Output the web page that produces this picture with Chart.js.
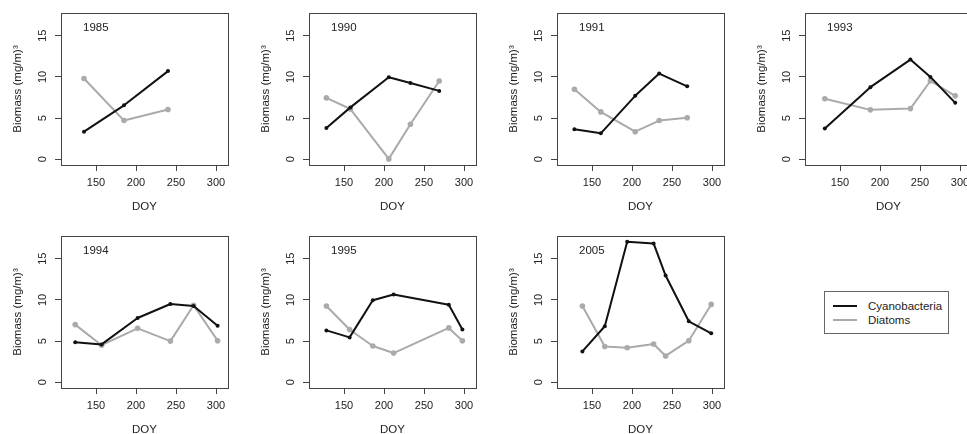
<!DOCTYPE html>
<html><head><meta charset="utf-8">
<script src="https://cdn.jsdelivr.net/npm/chart.js@4.4.1/dist/chart.umd.min.js"></script>
<style>
html,body{margin:0;padding:0;background:#fff;width:967px;height:434px;overflow:hidden;}
#wrap{position:relative;width:967px;height:434px;overflow:hidden;background:#fff;}
#wrap canvas{position:absolute;}
#legend{position:absolute;left:824px;top:291px;width:123px;height:41px;border:1px solid #666;font-family:"Liberation Sans",Arial,sans-serif;font-size:11.5px;color:#222;}
#legend .ln{position:absolute;left:8px;width:24px;height:2px;}
#legend .tx{position:absolute;left:43px;line-height:14px;white-space:nowrap;}
</style>
</head><body>
<div id="wrap">
  <div id="legend">
    <div class="ln" style="top:13px;background:#111;"></div><span class="tx" style="top:7px;">Cyanobacteria</span>
    <div class="ln" style="top:27px;background:#aaaaaa;"></div><span class="tx" style="top:21px;">Diatoms</span>
  </div>
</div>
<script>
// ---- data ----
const years = ['1985', '1990', '1991', '1993', '1994', '1995', '2005'];
const seriesNames = ['Cyanobacteria', 'Diatoms'];
const xTicks = [150, 200, 250, 300];
const yTicks = [0, 5, 10, 15];

const doy1985 = [135, 185, 240];
const cyano1985 = [3.35, 6.55, 10.7];
const diatom1985 = [9.8, 4.7, 6.05];

const doy1990 = [128, 158, 206, 233, 269];
const cyano1990 = [3.8, 6.3, 9.95, 9.25, 8.3];
const diatom1990 = [7.45, 6.1, 0.05, 4.25, 9.5];

const doy1991 = [128, 161, 204, 234, 269];
const cyano1991 = [3.65, 3.15, 7.7, 10.4, 8.85];
const diatom1991 = [8.5, 5.75, 3.35, 4.7, 5.05];

const doy1993 = [131, 188, 238, 263, 294];
const cyano1993 = [3.75, 8.75, 12.1, 10.0, 6.85];
const diatom1993 = [7.35, 6.0, 6.15, 9.5, 7.7];

const doy1994 = [124, 157, 202, 243, 272, 302];
const cyano1994 = [4.85, 4.6, 7.8, 9.5, 9.25, 6.85];
const diatom1994 = [7.0, 4.5, 6.55, 5.0, 9.35, 5.05];

const doy1995 = [128, 157, 186, 212, 281, 298];
const cyano1995 = [6.3, 5.45, 9.95, 10.65, 9.4, 6.4];
const diatom1995 = [9.25, 6.4, 4.4, 3.55, 6.6, 5.05];

const doy2005 = [138, 166, 194, 227, 242, 271, 299];
const cyano2005 = [3.75, 6.8, 17.05, 16.85, 12.95, 7.4, 5.95];
const diatom2005 = [9.25, 4.35, 4.2, 4.65, 3.2, 5.05, 9.45];

const panels = [
  [doy1985, cyano1985, diatom1985],
  [doy1990, cyano1990, diatom1990],
  [doy1991, cyano1991, diatom1991],
  [doy1993, cyano1993, diatom1993],
  [doy1994, cyano1994, diatom1994],
  [doy1995, cyano1995, diatom1995],
  [doy2005, cyano2005, diatom2005]
];

// ---- layout / style ----
const FONT = '"Liberation Sans", Arial, Helvetica, sans-serif';
const X_MIN = 106.25, X_MAX = 315;
const Y_MIN = -0.69, Y_MAX = 17.75;
const CW = 248, CH = 223;
const TEXT = '#222';
const AXIS = '#444';

const panelPlugin = {
  id: 'panelBox',
  afterDraw(chart, args, opts) {
    const {ctx, chartArea: a} = chart;
    ctx.save();
    ctx.strokeStyle = AXIS;
    ctx.lineWidth = 1;
    ctx.strokeRect(Math.round(a.left) + 0.5, Math.round(a.top) + 0.5,
                   Math.round(a.right - a.left), Math.round(a.bottom - a.top));
    ctx.fillStyle = TEXT;
    ctx.font = '11.5px ' + FONT;
    ctx.textBaseline = 'middle';
    ctx.textAlign = 'left';
    ctx.fillText(opts.text, a.left + 22, a.top + 14.5);
    ctx.restore();
  }
};

const wrap = document.getElementById('wrap');

panels.forEach((p, idx) => {
  const [doy, cy, di] = p;
  const col = idx % 4, row = Math.floor(idx / 4);
  const c = document.createElement('canvas');
  c.width = CW; c.height = CH;
  c.style.width = CW + 'px'; c.style.height = CH + 'px';
  c.style.left = (col * CW) + 'px';
  c.style.top = (row * CH) + 'px';
  wrap.appendChild(c);

  new Chart(c.getContext('2d'), {
    type: 'line',
    data: {
      datasets: [
        {
          label: seriesNames[0],
          data: doy.map((x, i) => ({x: x, y: cy[i]})),
          borderColor: '#111',
          backgroundColor: '#111',
          borderWidth: 2,
          pointRadius: 2,
          pointBorderWidth: 0,
          pointBackgroundColor: '#111',
          pointHoverRadius: 2,
          borderJoinStyle: 'round',
          borderCapStyle: 'round',
          tension: 0,
          fill: false
        },
        {
          label: seriesNames[1],
          data: doy.map((x, i) => ({x: x, y: di[i]})),
          borderColor: '#aaaaaa',
          backgroundColor: '#aaaaaa',
          borderWidth: 2,
          pointRadius: 2.8,
          pointBorderWidth: 0,
          pointBackgroundColor: '#aaaaaa',
          pointHoverRadius: 2.8,
          borderJoinStyle: 'round',
          borderCapStyle: 'round',
          tension: 0,
          fill: false
        }
      ]
    },
    options: {
      responsive: false,
      animation: false,
      devicePixelRatio: 1,
      events: [],
      layout: {padding: {top: 13, right: 20, left: 0, bottom: 0}},
      plugins: {
        legend: {display: false},
        tooltip: {enabled: false},
        title: {display: false},
        panelBox: {text: years[idx]}
      },
      scales: {
        x: {
          type: 'linear',
          min: X_MIN, max: X_MAX,
          afterBuildTicks: s => { s.ticks = xTicks.map(v => ({value: v})); },
          afterFit: s => { s.height = CH - 13 - 152; },
          grid: {display: true, drawOnChartArea: false, drawTicks: true, tickLength: 6, color: AXIS, lineWidth: 1},
          border: {display: false},
          ticks: {padding: 5, color: TEXT, font: {size: 11, family: FONT}, maxRotation: 0, minRotation: 0, autoSkip: false},
          title: {display: true, text: 'DOY', color: TEXT, font: {size: 11.5, family: FONT}, padding: {top: 0, bottom: 9.4}}
        },
        y: {
          type: 'linear',
          min: Y_MIN, max: Y_MAX,
          afterBuildTicks: s => { s.ticks = yTicks.map(v => ({value: v})); },
          afterFit: s => { s.width = 61; },
          grid: {display: true, drawOnChartArea: false, drawTicks: true, tickLength: 6, color: AXIS, lineWidth: 1},
          border: {display: false},
          ticks: {padding: 5.5, color: TEXT, font: {size: 11, family: FONT}, minRotation: 90, maxRotation: 90, crossAlign: 'center', autoSkip: false},
          title: {display: true, text: 'Biomass (mg/m)\u00B3', color: TEXT, font: {size: 11.5, family: FONT}, padding: {top: 11.4, bottom: 0}}
        }
      }
    },
    plugins: [panelPlugin]
  });
});
</script>
</body></html>
